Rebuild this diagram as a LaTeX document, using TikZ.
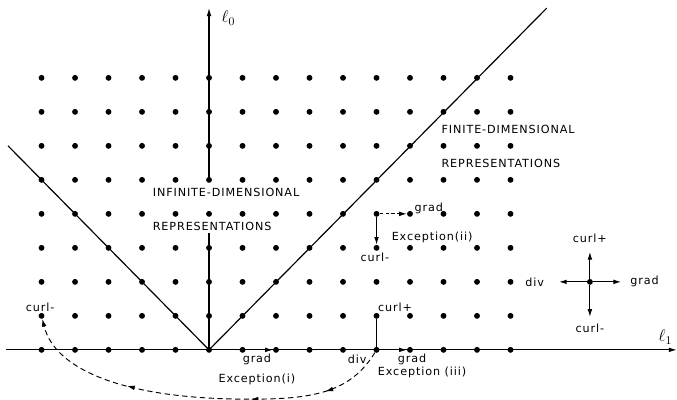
\documentclass[tikz,border=0pt]{standalone}
\usepackage{fontspec}
\newfontfamily\labelfont[LetterSpace=8]{DejaVu Sans}
\usepackage{tikz}
\usetikzlibrary{arrows.meta, positioning, decorations.markings}

\begin{document}
\begin{tikzpicture}[
    x=1cm, y=1.015cm,
    dot/.style={circle, fill, inner sep=0pt, minimum size=5pt},
    lbl/.style={font=\labelfont\fontsize{9.5}{11}\selectfont, inner sep=1pt},
    axis/.style={line width=1pt},
    arrow/.style={-{Latex[length=6.5pt, width=4pt]}, line width=0.9pt},
    flow/.style={dashed, dash pattern=on 4.5pt off 3pt, line width=0.8pt,
        -{Latex[length=6.5pt, width=4pt]},
        postaction={decorate, decoration={markings,
            mark=at position 0.17 with {\arrow{Latex[length=6.5pt, width=4pt]}},
            mark=at position 0.37 with {\arrow{Latex[length=6.5pt, width=4pt]}},
            mark=at position 0.70 with {\arrow{Latex[length=6.5pt, width=4pt]}}}}}
]
\useasboundingbox (-6.24,-1.47) rectangle (13.97,10.29);
% Lattice of weights
\foreach \i in {-5,...,9}
    \foreach \j in {0,...,8}
        \node[dot] (p\i-\j) at (\i,\j) {};
% Axes (l0 is broken where the region label sits)
\coordinate (xstart) at (-6.05,0);
\coordinate (xend) at (13.97,0);
\coordinate (gapbot) at (0,3.45);
\coordinate (yend) at (0,10.06);
\draw[axis, -{Latex[length=7pt, width=4pt]}] (xstart) -- (xend);
\draw[axis] (p0-0) -- (gapbot);
\draw[axis, -{Latex[length=7pt, width=4pt]}] (p0-5) -- (yend);
\node[font=\Large] (l1) at (13.62,0.38) {$\ell_1$};
\node[font=\Large] (l0) at (0.58,9.76) {$\ell_0$};
% Boundary lines
\coordinate (lstart) at (-6,6);
\coordinate (rend) at (10.08,10.05);
\draw[axis] (lstart) -- (p0-0.center) -- (rend);
% Region labels
\node[lbl, anchor=west] (inf1) at (-1.72,4.62) {INFINITE-DIMENSIONAL};
\node[lbl, anchor=west] (inf2) at (-1.72,3.62) {REPRESENTATIONS};
\node[lbl, anchor=west] (fin1) at (6.9,6.47) {FINITE-DIMENSIONAL};
\node[lbl, anchor=west] (fin2) at (6.9,5.47) {REPRESENTATIONS};
% Exception (i)
\draw[arrow] (p1-0) -- (p2-0);
\node[lbl] (gradi) at (1.43,-0.29) {grad};
\node[lbl] (exi) at (1.43,-0.86) {Exception(i)};
% Exception (ii)
\draw[arrow, dashed, dash pattern=on 3pt off 2pt] (p5-4) -- (p6-4);
\draw[arrow] (p5-4) -- (p5-3);
\node[lbl] (gradii) at (6.56,4.15) {grad};
\node[lbl] (curlii) at (4.95,2.72) {curl-};
\node[lbl] (exii) at (6.66,3.3) {Exception(ii)};
% Exception (iii)
\draw[axis] (p5-1) -- (p5-0);
\draw[arrow] (p5-0) -- (p6-0);
\node[lbl] (curliii) at (5.55,1.24) {curl+};
\node[lbl] (diviii) at (4.42,-0.29) {div};
\node[lbl] (gradiii) at (6.06,-0.29) {grad};
\node[lbl] (exiii) at (6.36,-0.65) {Exception (iii)};
\node[lbl] (curlm) at (-5.04,1.26) {curl-};
\draw[flow] (p5-0) .. controls (4.2,-1.3) and (3,-1.45) .. (1.2,-1.45)
    .. controls (-2.5,-1.45) and (-4.6,-0.6) .. (p-5-1);
% Key: the four operators
\node[dot] (cen) at (11.37,2) {};
\coordinate (cup) at (11.37,2.88);
\coordinate (cdown) at (11.37,0.97);
\coordinate (cleft) at (10.45,2);
\coordinate (cright) at (12.3,2);
\draw[arrow] (cen) -- (cup);
\draw[arrow] (cen) -- (cdown);
\draw[arrow] (cen) -- (cleft);
\draw[arrow] (cen) -- (cright);
\node[lbl] (kcurlp) at (11.37,3.27) {curl+};
\node[lbl] (kcurlm) at (11.37,0.63) {curl-};
\node[lbl] (kdiv) at (9.72,2) {div};
\node[lbl] (kgrad) at (13.0,2) {grad};
\end{tikzpicture}
\end{document}
